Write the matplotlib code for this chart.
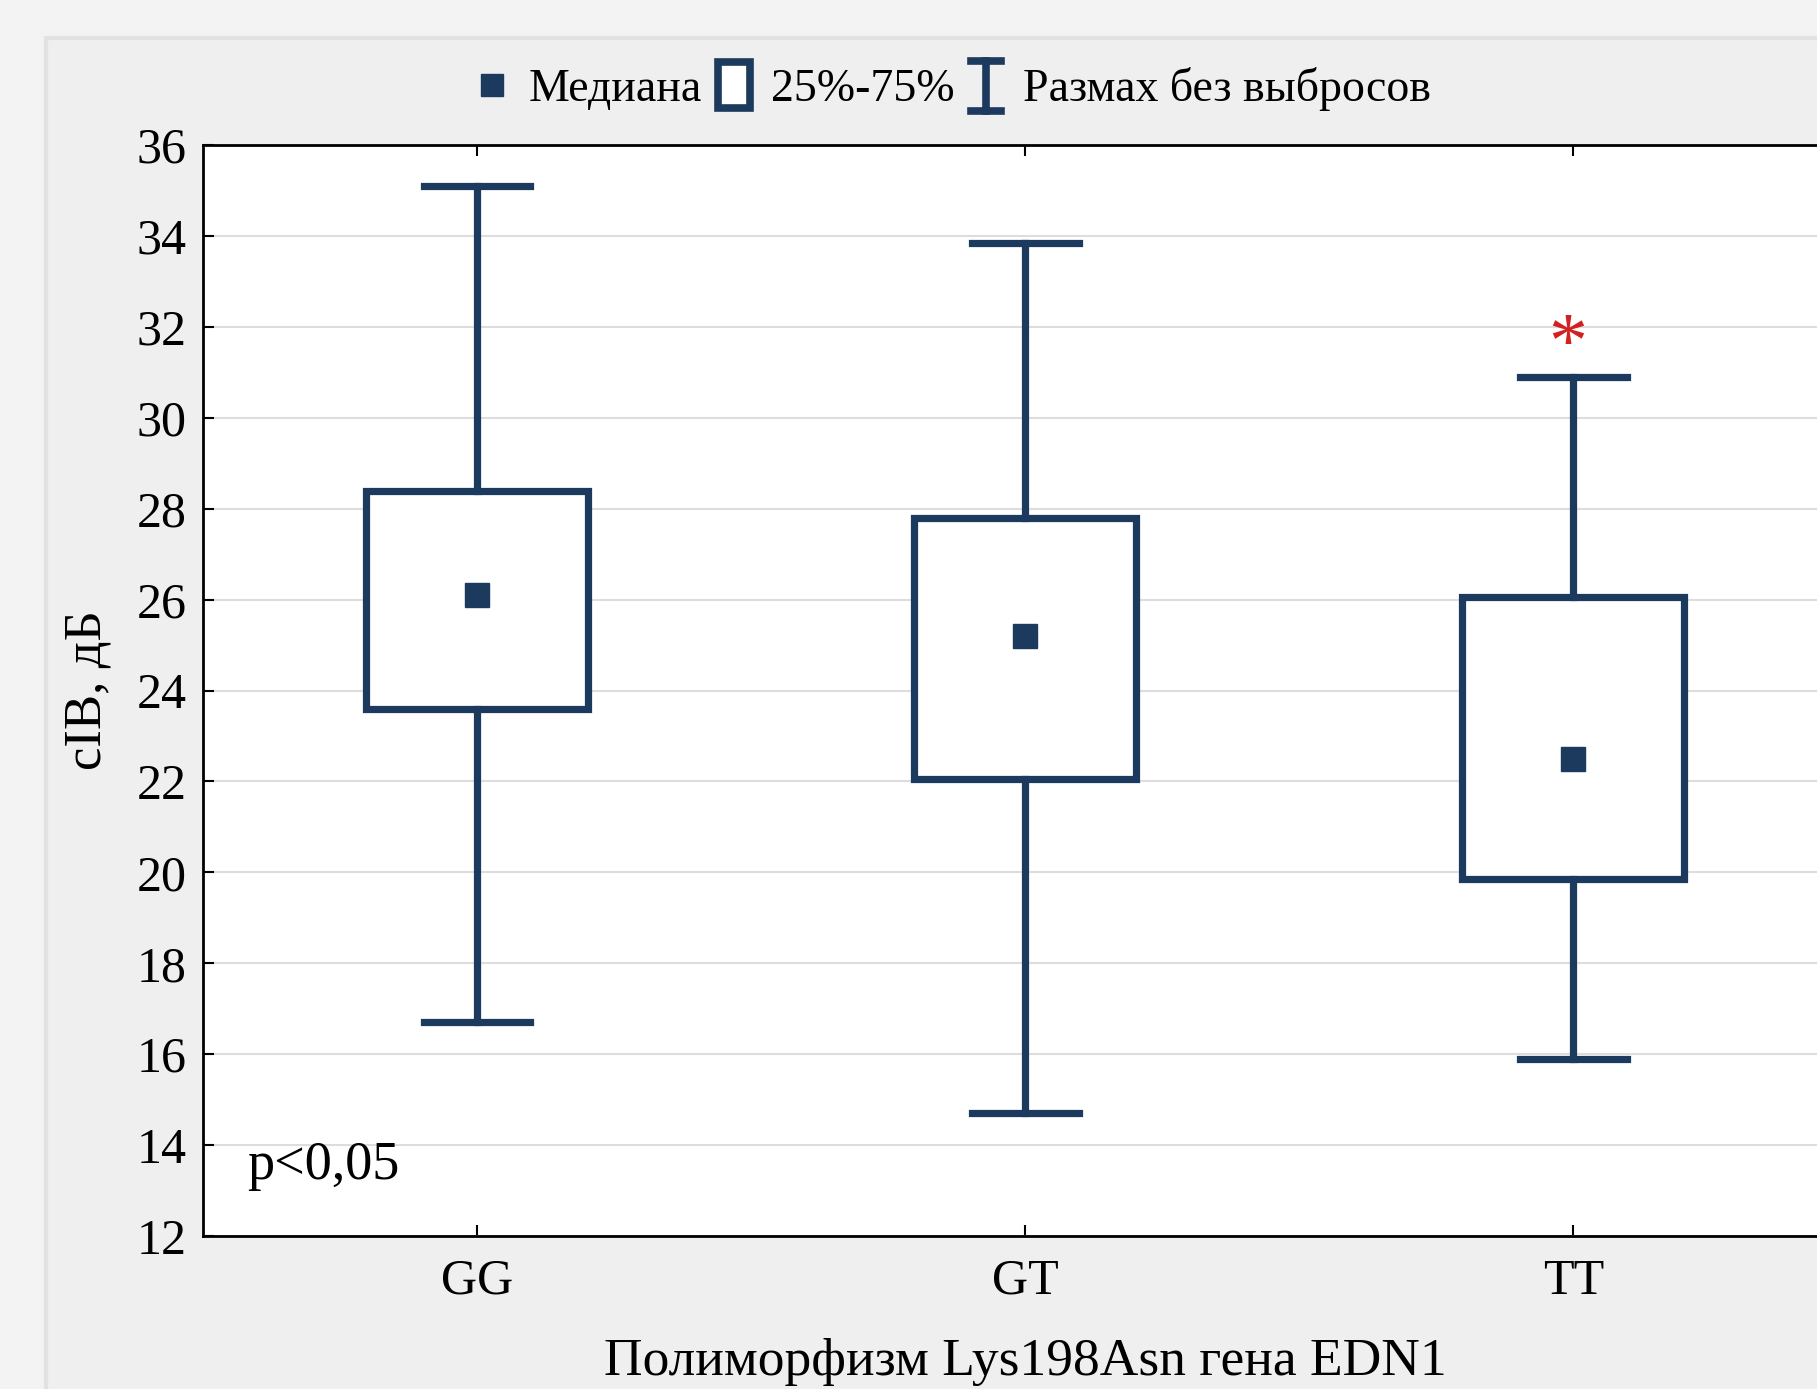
import matplotlib
matplotlib.use('Agg')
from matplotlib import pyplot as plt
from matplotlib.lines import Line2D
from matplotlib.patches import Rectangle
from matplotlib.legend_handler import HandlerBase

# данные
genotypes = ['GG', 'GT', 'TT']
whisker_low = [16.7, 14.7, 15.9]
q1 = [23.6, 22.05, 19.85]
median = [26.1, 25.2, 22.5]
q3 = [28.4, 27.8, 26.05]
whisker_high = [35.1, 33.85, 30.9]

navy = '#1b3a5e'
plt.rcParams['font.family'] = ['Liberation Serif', 'DejaVu Serif']

fig = plt.figure(figsize=(18.17, 13.89), dpi=100, facecolor='#f3f3f3')
# фон панели скриншота
fig.patches.append(Rectangle((46/1817, -0.01), 1.0, 1 - 38/1389 + 0.01,
                             transform=fig.transFigure, facecolor='#efefef',
                             edgecolor='#e2e2e2', linewidth=3, zorder=-5))

ax = fig.add_axes([0.1117, 0.1101, 0.905, 0.7855])
ax.set_facecolor('white')

stats = []
for i in range(len(genotypes)):
    stats.append({'med': median[i], 'mean': median[i], 'q1': q1[i], 'q3': q3[i],
                  'whislo': whisker_low[i], 'whishi': whisker_high[i], 'fliers': []})

pos = list(range(len(genotypes)))
lw = 5.2
ax.bxp(stats, positions=pos, widths=0.405, capwidths=0.195, showmeans=True,
       showfliers=False, patch_artist=True,
       boxprops=dict(facecolor='white', edgecolor=navy, linewidth=lw),
       whiskerprops=dict(color=navy, linewidth=lw),
       capprops=dict(color=navy, linewidth=lw),
       medianprops=dict(visible=False),
       meanprops=dict(marker='s', markerfacecolor=navy, markeredgecolor=navy,
                      markersize=17))

ax.set_xlim(-0.5, 2.5)
ax.set_ylim(12, 36)
ax.set_yticks(range(12, 37, 2))
ax.set_xticks(pos)
ax.set_xticklabels(genotypes)
ax.yaxis.grid(True, color='#dddddd', linewidth=1.5)
ax.set_axisbelow(True)
for s in ax.spines.values():
    s.set_linewidth(2)
ax.tick_params(direction='in', length=8, width=1.5, top=True, right=True,
               labelsize=36, pad=12)
ax.tick_params(axis='x', pad=16)

ax.set_ylabel('cIB, дБ', fontsize=38, labelpad=18)
ax.set_xlabel('Полиморфизм Lys198Asn гена EDN1', fontsize=38.5, labelpad=24)

ax.text(-0.42, 13.55, 'p<0,05', fontsize=39, va='center', ha='left')
ax.text(1.99, 31.55, '*', color='#d42020', fontsize=56, ha='center', va='center')


class BoxHandler(HandlerBase):
    def create_artists(self, legend, orig_handle, xdescent, ydescent,
                       width, height, fontsize, trans):
        w = width * 0.7
        h = height * 1.45
        r = Rectangle((-xdescent + (width - w) / 2, -ydescent - height * 0.22), w, h,
                      facecolor='white', edgecolor=navy, linewidth=5.5, transform=trans)
        return [r]


class WhiskerHandler(HandlerBase):
    def create_artists(self, legend, orig_handle, xdescent, ydescent,
                       width, height, fontsize, trans):
        cx = -xdescent + width / 2
        y0 = -ydescent - height * 0.3
        y1 = -ydescent + height * 1.25
        hw = width * 0.33
        lines = [Line2D([cx, cx], [y0, y1], color=navy, linewidth=5.5, transform=trans),
                 Line2D([cx - hw, cx + hw], [y0, y0], color=navy, linewidth=5.5, transform=trans),
                 Line2D([cx - hw, cx + hw], [y1, y1], color=navy, linewidth=5.5, transform=trans)]
        return lines


h_med = Line2D([], [], linestyle='none', marker='s', markersize=16,
               markerfacecolor=navy, markeredgecolor=navy)
h_box = Rectangle((0, 0), 1, 1)
h_whisk = Line2D([], [])
fig.legend([h_med, h_box, h_whisk], ['Медиана', '25%-75%', 'Размах без выбросов'],
           handler_map={h_box: BoxHandler(), h_whisk: WhiskerHandler()},
           loc='center', bbox_to_anchor=(950/1817, 1 - 89/1389), ncol=3,
           frameon=False, fontsize=33, handlelength=1.0, handletextpad=0.3,
           columnspacing=0.2)

fig.savefig('out.png', dpi=100, facecolor=fig.get_facecolor())
